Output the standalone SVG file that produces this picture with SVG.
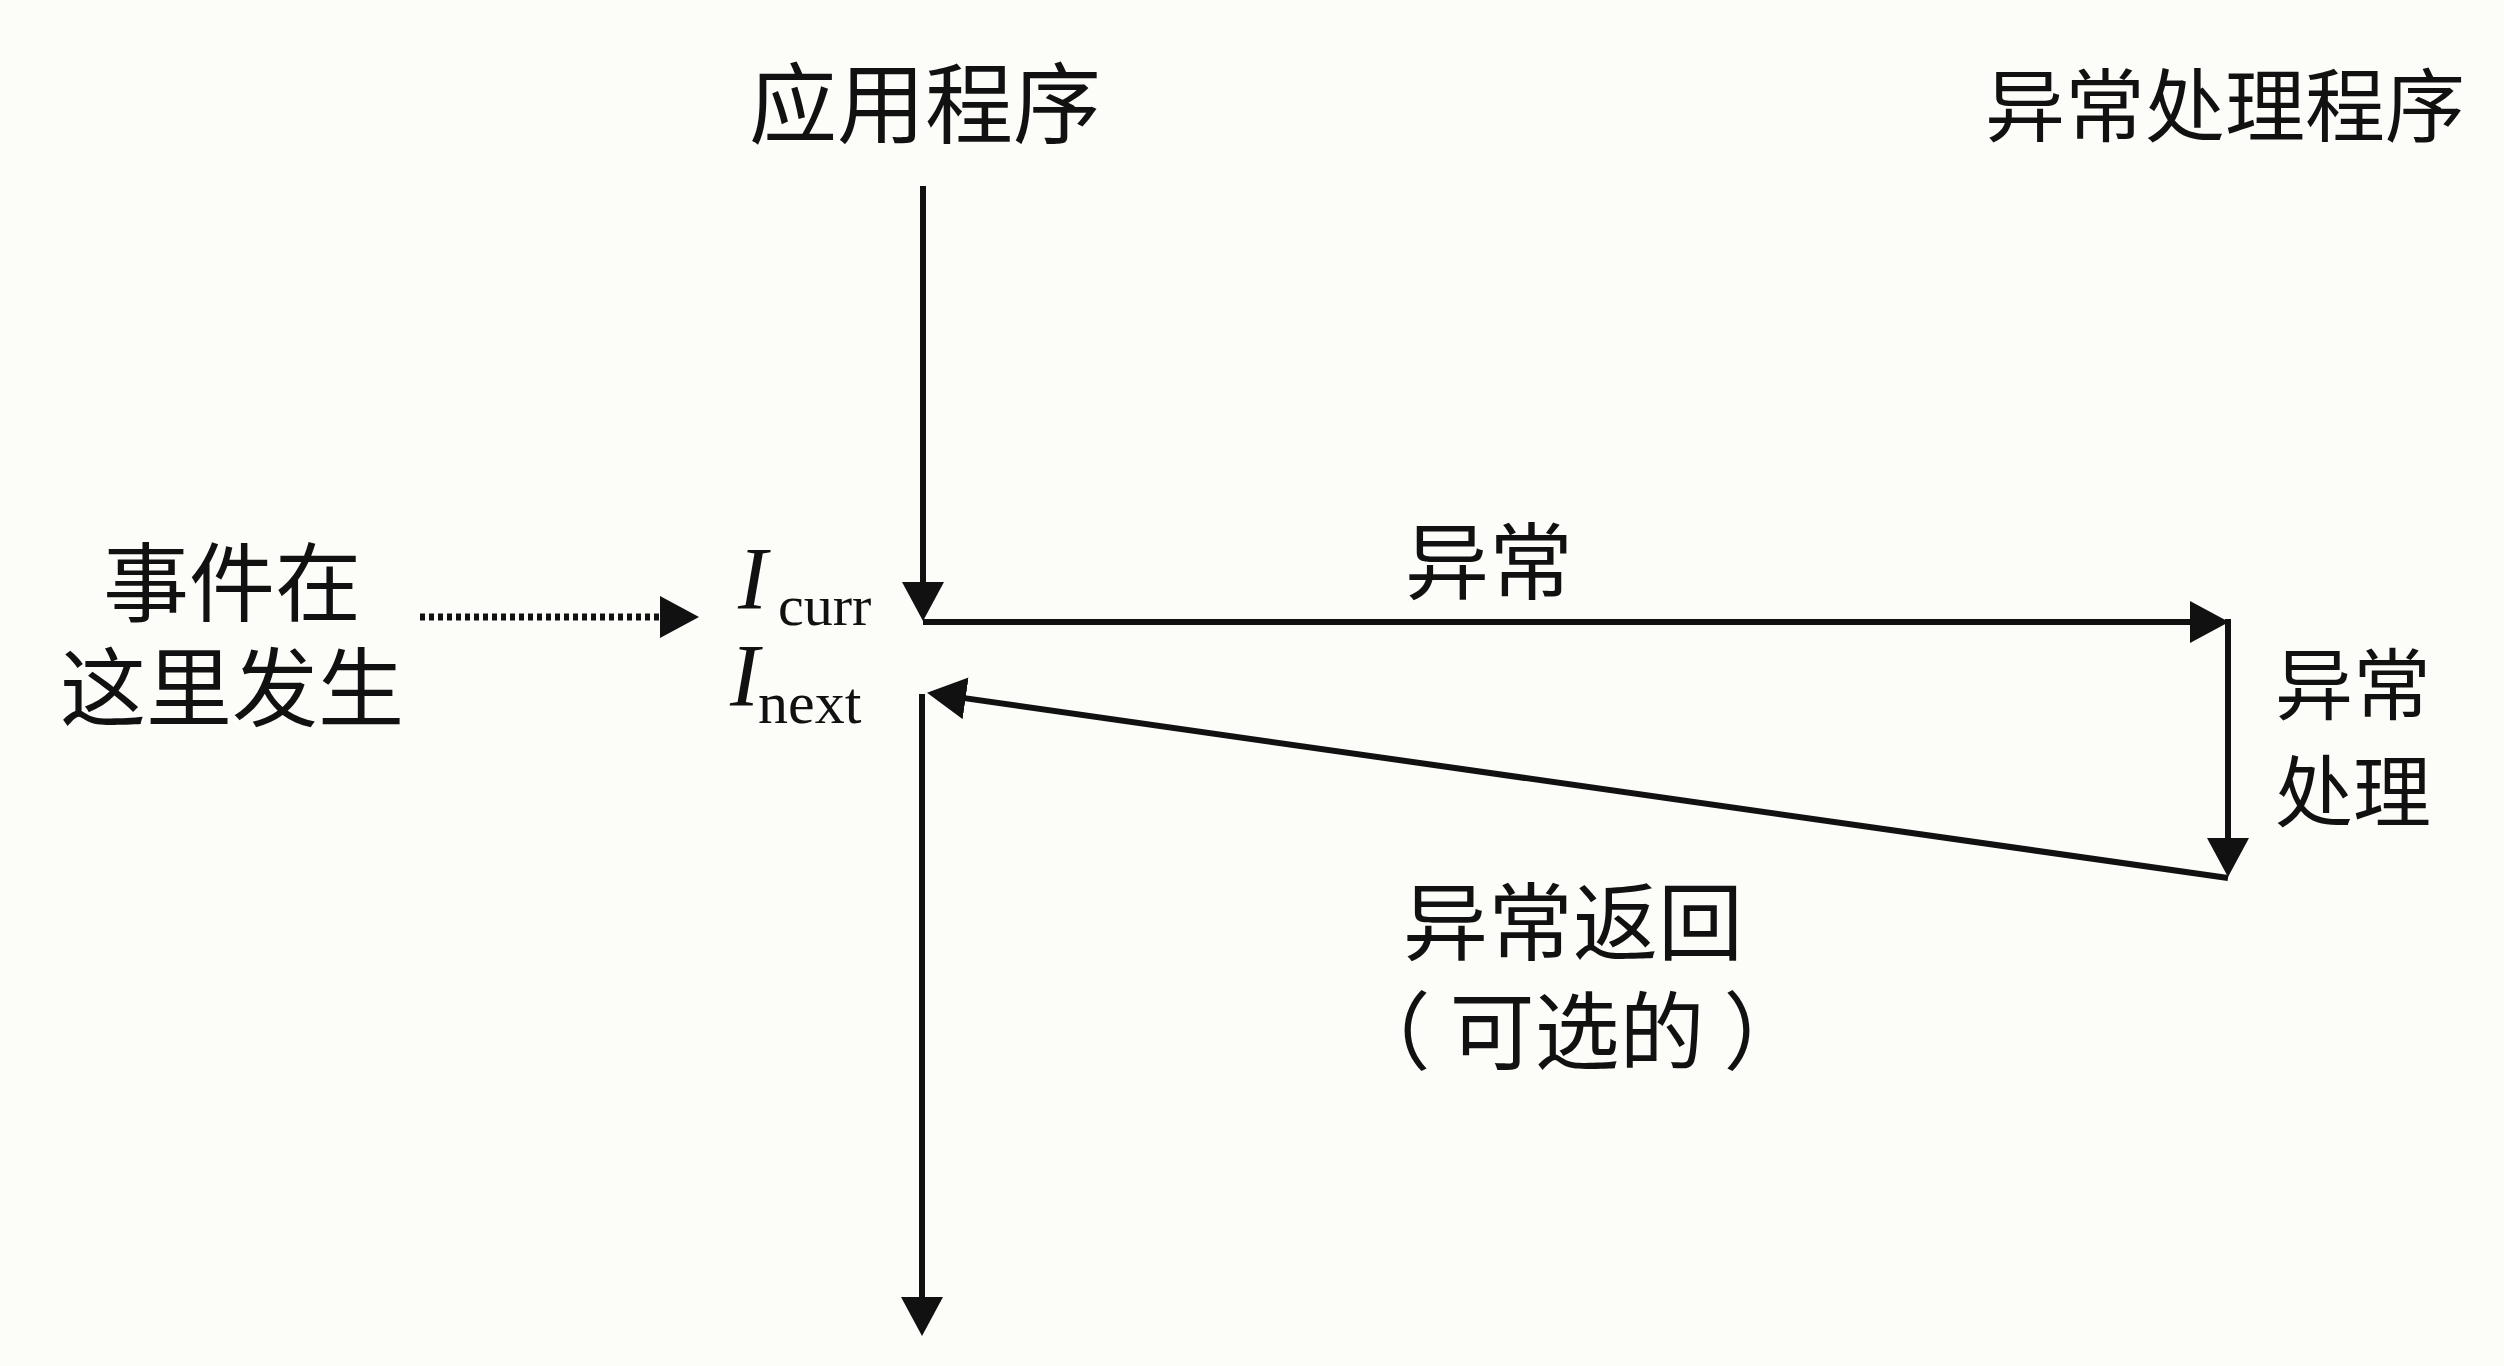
<svg xmlns="http://www.w3.org/2000/svg" width="2504" height="1366" viewBox="0 0 2504 1366">
<style>
.cjk{font-family:"Noto Sans CJK SC","Noto Sans",sans-serif;fill:#111;text-anchor:middle;dominant-baseline:central}
.it{font-family:"Liberation Serif",serif;font-style:italic;fill:#111}
.sub{font-family:"Liberation Serif",serif;fill:#111}
.ln{fill:none;stroke:#111;stroke-width:6}
.dot{fill:none;stroke:#111;stroke-width:7;stroke-dasharray:5 4}
</style>
<defs>
<marker id="ah" markerUnits="userSpaceOnUse" markerWidth="42" markerHeight="44" refX="28" refY="21" orient="auto" viewBox="0 0 42 44">
<path d="M0,0 L39,21 L0,42 z" fill="#111"/>
</marker>
</defs>
<rect width="2504" height="1366" fill="#fcfcf9"/>
<g id="app-label"><text class="cjk" x="925" y="97" font-size="88">应用程序</text></g>
<g id="handler-label"><text class="cjk" x="2225" y="100" font-size="80">异常处理程序</text></g>
<g id="event-label">
<text class="cjk" x="232" y="577" font-size="86">事件在</text>
<text class="cjk" x="232" y="682" font-size="86">这里发生</text>
</g>
<g id="icurr"><text class="it" x="738" y="608" font-size="88">I</text><text class="sub" x="778" y="625" font-size="58">curr</text></g>
<g id="inext"><text class="it" x="730" y="705" font-size="88">I</text><text class="sub" x="758" y="723" font-size="60">next</text></g>
<g id="exc-label"><text class="cjk" x="1489" y="556" font-size="84">异常</text></g>
<g id="handling-label">
<text class="cjk" x="2353" y="680" font-size="78">异常</text>
<text class="cjk" x="2353" y="787" font-size="78">处理</text>
</g>
<g id="return-label">
<text class="cjk" x="1573" y="916" font-size="85">异常返回</text>
<text class="cjk" x="1577" y="1025" font-size="85">（ 可选的 ）</text>
</g>
<g id="connectors">
<path class="ln" d="M923,186 V610" marker-end="url(#ah)"/>
<path class="ln" d="M923,622 H2218" marker-end="url(#ah)"/>
<path class="ln" d="M2228,619 V866" marker-end="url(#ah)"/>
<path class="ln" d="M2228,878 L937.9,694.4" marker-end="url(#ah)"/>
<path class="ln" d="M922,694 V1325" marker-end="url(#ah)"/>
<path class="dot" d="M420,617 H688" marker-end="url(#ah)"/>
</g>
</svg>
